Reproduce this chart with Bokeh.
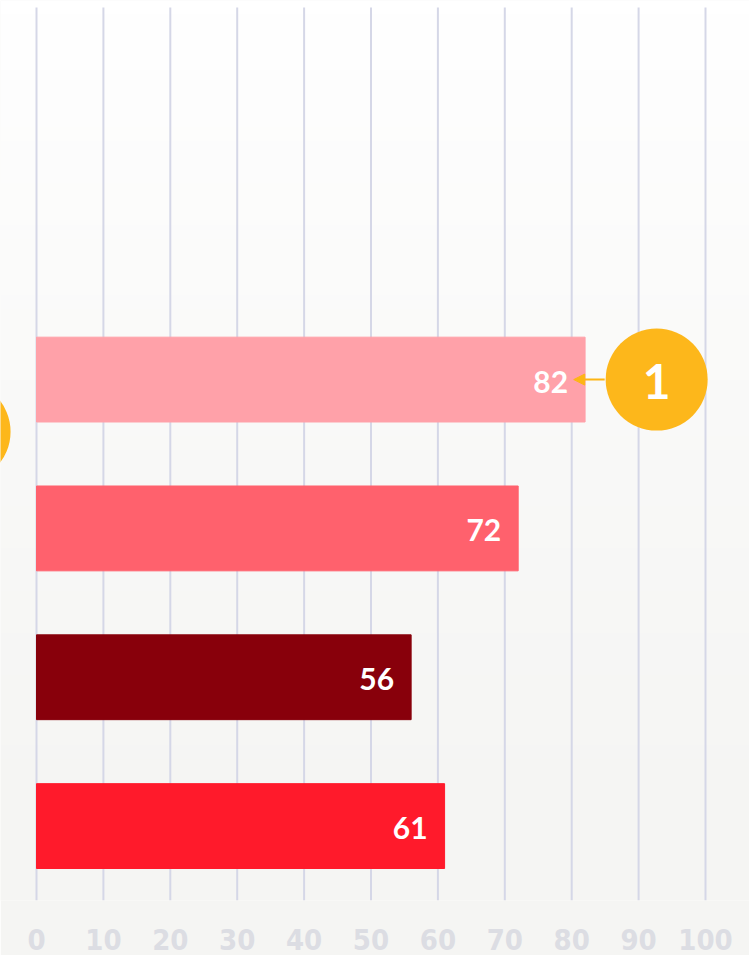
import numpy as np
from bokeh.plotting import figure
from bokeh.models import Range1d, FixedTicker, Arrow, NormalHead, ColumnDataSource
from bokeh.core.properties import value
from bokeh.embed import file_html
from bokeh.resources import INLINE

# ---- data ----
categories = ["A", "B", "C", "D"]
values = [82, 72, 56, 61]
slots = [3, 2, 1, 0]
bar_colors = ["#ffa1a9", "#ff616d", "#88000b", "#ff1a2b"]
tick_values = [0, 10, 20, 30, 40, 50, 60, 70, 80, 90, 100]
marker_label = "1"
marker_x = 92.7
side_marker_x = -11.5
side_marker_y = 2.65

W, H = 749, 955
px_per_unit = 6.69
zero_px = 36
slot_px = 149
top_pad = 7

p = figure(width=W, height=H, output_backend="svg", toolbar_location=None,
           x_range=Range1d(-zero_px / px_per_unit, (W - zero_px) / px_per_unit),
           y_range=Range1d(-0.5, 5.5 + top_pad / slot_px), y_axis_type=None,
           min_border_left=0, min_border_right=0, min_border_top=0, min_border_bottom=55)
p.outline_line_color = None
p.border_fill_color = "#f5f5f3"
p.background_fill_color = "#f9f9f8"

# subtle vertical background gradient
n = 64
t = np.linspace(0, 1, n)
img = np.zeros((n, 1), dtype=np.uint32)
view = img.view(dtype=np.uint8).reshape((n, 1, 4))
top = np.array([255, 255, 255]); bot = np.array([245, 245, 243])
for i in range(n):
    c = bot + (top - bot) * t[i] ** 1.3
    view[i, 0, 0:3] = c.astype(np.uint8)
    view[i, 0, 3] = 255
p.image_rgba(image=[img], x=p.x_range.start, y=p.y_range.start,
             dw=p.x_range.end - p.x_range.start, dh=p.y_range.end - p.y_range.start,
             level="image")

# axis / grid
p.xaxis.ticker = FixedTicker(ticks=tick_values)
p.xgrid.grid_line_color = None
p.ygrid.grid_line_color = None
p.segment(x0=tick_values, x1=tick_values, y0=-0.5, y1=5.5,
          line_color="#d5d7e7", line_width=2)
p.xaxis.axis_line_color = None
p.xaxis.major_tick_line_color = None
p.xaxis.minor_tick_line_color = None
p.xaxis.major_label_text_font = "DejaVu Sans Condensed, DejaVu Sans, sans-serif"
p.xaxis.major_label_text_font_style = "bold"
p.xaxis.major_label_text_font_size = "29px"
p.xaxis.major_label_text_color = "#dcdde3"
p.xaxis.major_label_standoff = 22

src = ColumnDataSource(dict(cat=categories, v=values, y=slots, color=bar_colors,
                            lbl=[str(v) for v in values]))
p.hbar(y="y", right="v", left=0, height=0.57, color="color", source=src)
p.text(x="v", y="y", text="lbl", source=src, text_align="right", text_baseline="middle",
       x_offset=-17, y_offset=2, text_color="white", text_font=value("Lato"),
       text_font_style="bold", text_font_size="30px")

# annotation marker
p.add_layout(Arrow(end=NormalHead(size=11, fill_color="#fdb515", line_color="#fdb515"),
                   x_start=marker_x - 52 / px_per_unit, y_start=slots[0],
                   x_end=values[0] - 1.7, y_end=slots[0],
                   line_color="#fdb515", line_width=2))
p.scatter(x=[marker_x], y=[slots[0]], size=102, color="#fdb71b", line_color=None)
p.text(x=[marker_x], y=[slots[0]], text=[marker_label], text_align="center",
       text_baseline="middle", y_offset=2, text_color="white", text_font=value("Lato"),
       text_font_style="bold", text_font_size="48px")
p.scatter(x=[side_marker_x], y=[side_marker_y], size=102, color="#fdb71b", line_color=None)

open("out.html", "w").write(file_html(p, INLINE))
